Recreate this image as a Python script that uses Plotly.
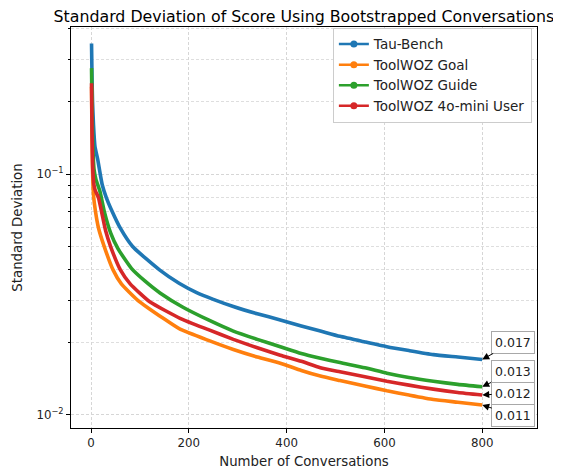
import math
import plotly.graph_objects as go

# ---- data (x = number of conversations, y = std dev) ----
tau_x = [1, 2, 3, 5, 8, 14, 18, 23, 31, 43, 59, 85, 140, 180, 216, 250, 291, 340,
         387, 430, 469, 509, 560, 605, 650, 700, 750, 800]
tau_y = [0.348, 0.25, 0.20, 0.16, 0.13, 0.114, 0.102, 0.090, 0.080, 0.070, 0.060, 0.050,
         0.040, 0.0352, 0.0322, 0.0302, 0.0282, 0.0263, 0.0248, 0.0234, 0.0223, 0.0212,
         0.0201, 0.0192, 0.0185, 0.0178, 0.0174, 0.0170]

goal_x = [1, 2, 3, 5, 9, 15, 27, 45, 62, 95, 150, 182, 240, 291, 340, 387, 430, 469,
          509, 560, 605, 650, 700, 750, 800]
goal_y = [0.23, 0.14, 0.105, 0.082, 0.070, 0.060, 0.050, 0.040, 0.035, 0.030, 0.0250,
          0.0227, 0.0204, 0.0187, 0.0174, 0.0164, 0.0153, 0.0145, 0.0139, 0.0132, 0.0126,
          0.0121, 0.0116, 0.0113, 0.0110]

guide_x = [1, 2, 3, 4, 6, 10, 18, 27, 40, 55, 83, 110, 141, 188, 240, 291, 340, 387,
           430, 469, 509, 560, 605, 650, 700, 750, 800]
guide_y = [0.275, 0.19, 0.15, 0.125, 0.105, 0.095, 0.085, 0.070, 0.057, 0.049, 0.0405,
           0.0360, 0.0321, 0.0280, 0.0248, 0.0223, 0.0206, 0.0192, 0.0180, 0.0172, 0.0165,
           0.0157, 0.0149, 0.0143, 0.0138, 0.0134, 0.0131]

mini_x = [1, 2, 3, 4, 6, 9, 15, 30, 40, 60, 80, 120, 182, 240, 291, 340, 387, 430,
          469, 509, 560, 605, 650, 700, 750, 800]
mini_y = [0.238, 0.15, 0.115, 0.100, 0.090, 0.085, 0.080, 0.058, 0.050, 0.040, 0.035,
          0.0295, 0.0252, 0.0226, 0.0206, 0.0190, 0.0177, 0.0167, 0.0157, 0.0151, 0.0144,
          0.0138, 0.0133, 0.0128, 0.0124, 0.0121]

series_names = ["Tau-Bench", "ToolWOZ Goal", "ToolWOZ Guide", "ToolWOZ 4o-mini User"]
series_colors = ["#1f77b4", "#ff7f0e", "#2ca02c", "#d62728"]
end_labels = ["0.017", "0.011", "0.013", "0.012"]

xs = [tau_x, goal_x, guide_x, mini_x]
ys = [tau_y, goal_y, guide_y, mini_y]

FONT = "DejaVu Sans"
fig = go.Figure()

for name, color, x, y in zip(series_names, series_colors, xs, ys):
    fig.add_trace(go.Scatter(x=x, y=y, mode="lines", name=name, showlegend=False,
                             line=dict(color=color, width=3.6, shape="spline",
                                       smoothing=0.5)))
for name, color in zip(series_names, series_colors):
    fig.add_trace(go.Scatter(x=[None], y=[None], mode="lines+markers", name=name,
                             line=dict(color=color, width=2.5),
                             marker=dict(color=color, size=7)))

# annotations at the end of each curve (log axis: annotation y given as log10)
offsets = {"Tau-Bench": (31, -17), "ToolWOZ Goal": (31, 10),
           "ToolWOZ Guide": (31, -15), "ToolWOZ 4o-mini User": (31, -2)}
for name, x, y, lab in zip(series_names, xs, ys, end_labels):
    ax, ay = offsets[name]
    fig.add_annotation(x=x[-1], y=math.log10(y[-1]), xref="x", yref="y", text=lab,
                       showarrow=True, ax=ax, ay=ay, arrowhead=2, arrowsize=1.4,
                       arrowwidth=1, arrowcolor="black",
                       font=dict(family=FONT, size=12.5, color="#222"),
                       bgcolor="white", bordercolor="#a8a8a8", borderwidth=1,
                       borderpad=3)

grid = dict(showgrid=True, gridcolor="#d6d6d6", griddash="3px,2px", gridwidth=0.8)

# the page body adds an 8px offset, so the figure is 8px smaller than the window
fig.update_layout(
    width=553, height=461,
    margin=dict(l=63, r=24, t=19, b=41),
    paper_bgcolor="white", plot_bgcolor="white",
    font=dict(family=FONT, size=11, color="#222"),
    title=dict(text="Standard Deviation of Score Using Bootstrapped Conversations",
               font=dict(family=FONT, size=15.8, color="black"),
               x=0.535, xanchor="center", y=1 - 8 / 461, yanchor="middle"),
    legend=dict(x=0.989, y=0.998, xanchor="right", yanchor="top",
                bgcolor="white", bordercolor="#cccccc", borderwidth=1,
                font=dict(family=FONT, size=13.5, color="#222"),
                tracegroupgap=0, itemwidth=30),
    showlegend=True,
)

fig.update_xaxes(range=[-41, 912], tickvals=[0, 200, 400, 600, 800],
                 ticks="outside", ticklen=4, tickcolor="black",
                 showline=True, linecolor="black", linewidth=1, mirror=True,
                 zeroline=False, automargin=False,
                 title=dict(text="Number of Conversations",
                            font=dict(family=FONT, size=13.3, color="#222"),
                            standoff=12),
                 tickfont=dict(family=FONT, size=11.8, color="#222"),
                 **grid)

fig.update_yaxes(type="log", range=[-2.054, -0.390],
                 tickvals=[0.01, 0.1], ticktext=["10<sup>−2</sup>", "10<sup>−1</sup>"],
                 ticks="outside", ticklen=4, tickcolor="black",
                 showline=True, linecolor="black", linewidth=1, mirror=True,
                 zeroline=False, automargin=False,
                 title=dict(text="Standard Deviation",
                            font=dict(family=FONT, size=13.3, color="#222"),
                            standoff=10),
                 tickfont=dict(family=FONT, size=11.8, color="#222"),
                 minor=dict(tickmode="array",
                            tickvals=[0.02, 0.03, 0.04, 0.05, 0.06, 0.07, 0.08, 0.09,
                                      0.2, 0.3, 0.4],
                            ticks="outside", ticklen=2, tickcolor="black",
                            showgrid=True, gridcolor="#dedede", griddash="3px,2px",
                            gridwidth=0.8),
                 **grid)

fig.write_html("out.html")
